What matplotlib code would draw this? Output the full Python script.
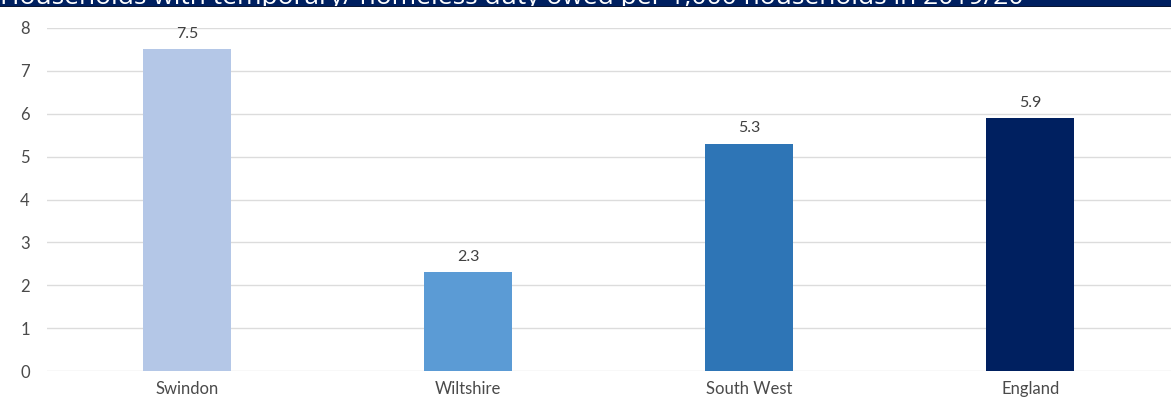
import matplotlib
matplotlib.use("Agg")
import matplotlib.pyplot as plt
from matplotlib.patches import Rectangle

areas = ["Swindon", "Wiltshire", "South West", "England"]
rates = [7.5, 2.3, 5.3, 5.9]
bar_colors = ["#b4c7e7", "#5b9bd5", "#2e75b6", "#002060"]
y_ticks = [0, 1, 2, 3, 4, 5, 6, 7, 8]
title = "Households with temporary/ homeless duty owed per 1,000 households in 2019/20"

W, H = 1171, 403
fig = plt.figure(figsize=(W / 100, H / 100), dpi=100)
plt.rcParams["font.family"] = ["Lato", "DejaVu Sans"]

# title banner along the top edge
band = Rectangle((0, 1 - 6 / H), 1, 6 / H, transform=fig.transFigure,
                 facecolor="#002060", edgecolor="none", zorder=5)
fig.patches.append(band)
fig.add_artist(Rectangle((0, 1 - 7 / H), 1, 1.2 / H, transform=fig.transFigure,
                         facecolor="#0a1633", edgecolor="none", zorder=6))
t = fig.text(0.0, 1 - 3.5 / H, title, color="white", fontsize=19,
             ha="left", va="baseline", zorder=7, family=["Open Sans", "DejaVu Sans"])
t.set_clip_path(band)

left = 46.5 / W
bottom = (H - 371) / H
top = (H - 28) / H
ax = fig.add_axes([left, bottom, 1 - left, top - bottom])

x = range(len(areas))
bars = ax.bar(x, rates, width=0.313, color=bar_colors, zorder=3)
for rect, v in zip(bars, rates):
    ax.annotate(f"{v:.1f}", (rect.get_x() + rect.get_width() / 2, v),
                xytext=(0, 6), textcoords="offset points", ha="center", va="bottom",
                fontsize=11.5, color="#404040")

ax.set_xlim(-0.5, len(areas) - 0.5)
ax.set_ylim(0, 8)
ax.set_yticks(y_ticks)
ax.set_xticks(list(x))
ax.set_xticklabels(areas)
ax.tick_params(axis="both", length=0, labelsize=12, colors="#4a4a4a")
ax.tick_params(axis="y", pad=12)
ax.tick_params(axis="x", pad=7)
ax.grid(axis="y", color="#dcdcdc", linewidth=1.0, zorder=0)
for s in ax.spines.values():
    s.set_visible(False)
ax.set_facecolor("none")

fig.savefig("out.png", dpi=100)
